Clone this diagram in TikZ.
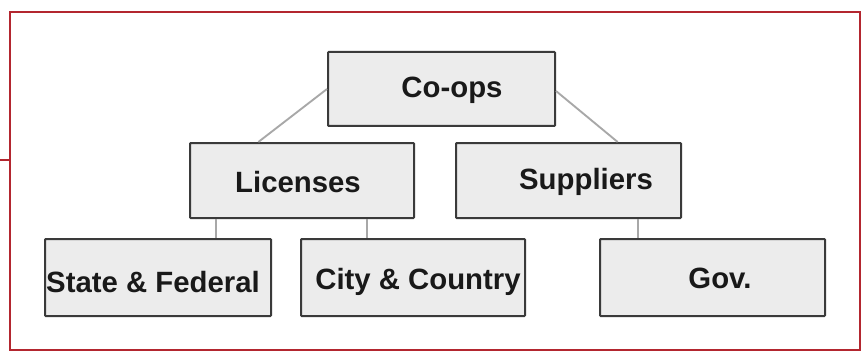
\documentclass[tikz,border=0pt]{standalone}
\usepackage{fontspec}
\setmainfont{Liberation Sans}
\usetikzlibrary{fit}
\definecolor{frame}{HTML}{B3262F}
\definecolor{boxfill}{HTML}{ECECEC}
\definecolor{boxline}{HTML}{3A3A3A}
\definecolor{conn}{HTML}{A8A8A8}
\tikzset{
  box/.style={draw=boxline, fill=boxfill, line width=1.5pt, inner sep=0pt, rounded corners=0.6pt},
  lbl/.style={font=\fontsize{22}{26}\selectfont\bfseries, text=black!90, inner sep=0pt},
  link/.style={draw=conn, line width=1.4pt},
  redline/.style={draw=frame, line width=1.6pt}
}
\begin{document}
\begin{tikzpicture}[x=0.75pt, y=-0.75pt]
\useasboundingbox (0,0) rectangle (868,353);
\fill[white] (0,0) rectangle (868,353);
% frame
\coordinate (fa) at (10,12);
\coordinate (fb) at (860,350);
\draw[redline] (fa) rectangle (fb);
\coordinate (stubA) at (0,160);
\coordinate (stubB) at (10,160);
\draw[redline] (stubA) -- (stubB);
% boxes
\node[box, fit={(328,52)(555,126)}] (coops) {};
\node[box, fit={(190,143)(414,218)}] (lic) {};
\node[box, fit={(456,143)(681,218)}] (sup) {};
\node[box, fit={(45,239)(271,316)}] (sf) {};
\node[box, fit={(301,239)(525,316)}] (cc) {};
\node[box, fit={(600,239)(825,316)}] (gov) {};
% connectors
\begin{scope}[on background layer/.style={}]
\end{scope}
% texts
\node[lbl] (tcoops) at (452,90) {Co-ops};
\node[lbl] (tlic) at (298,182) {Licenses};
\node[lbl] (tsup) at (586,182) {Suppliers};
\node[lbl] (tsf) at (153,282) {State \& Federal};
\node[lbl] (tcc) at (418,282) {City \& Country};
\node[lbl] (tgov) at (720,278) {Gov.};
% connectors
\draw[link] ([yshift=-28.5pt]coops.north west) -- ([xshift=52pt]lic.north west);
\draw[link] ([yshift=-30pt]coops.north east) -- ([xshift=122pt]sup.north west);
\draw[link] ([xshift=20pt]lic.south west) -- ([xshift=20pt]lic.south west |- sf.north);
\draw[link] ([xshift=133.5pt]lic.south west) -- ([xshift=133.5pt]lic.south west |- cc.north);
\draw[link] ([xshift=137pt]sup.south west) -- ([xshift=137pt]sup.south west |- gov.north);
\end{tikzpicture}
\end{document}
